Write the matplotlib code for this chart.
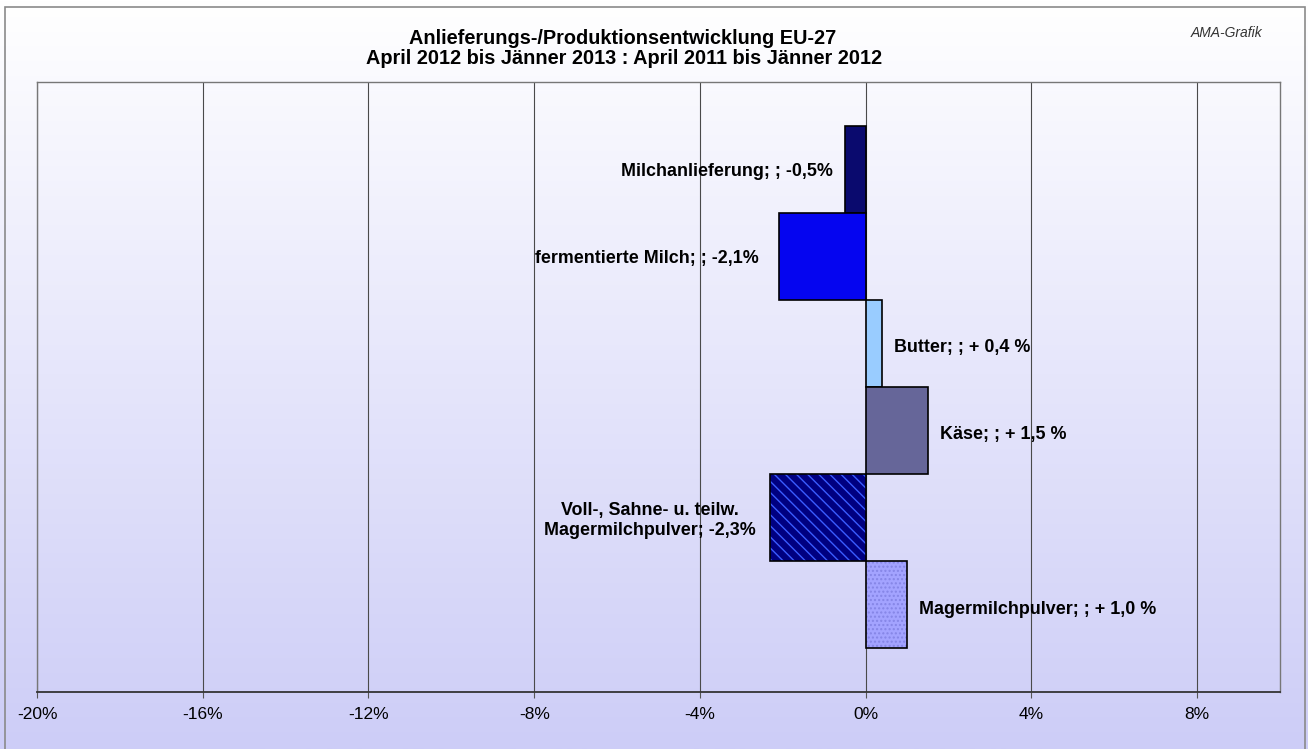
import numpy as np
import matplotlib.pyplot as plt
from matplotlib.patches import Rectangle

plt.rcParams['font.family'] = ['Liberation Sans', 'DejaVu Sans']

# data
categories = ['Milchanlieferung', 'fermentierte Milch', 'Butter', 'Käse',
              'Voll-, Sahne- u. teilw.\nMagermilchpulver', 'Magermilchpulver']
values = [-0.5, -2.1, 0.4, 1.5, -2.3, 1.0]
labels = ['Milchanlieferung; ; -0,5%', 'fermentierte Milch; ; -2,1%',
          'Butter; ; + 0,4 %', 'Käse; ; + 1,5 %',
          'Voll-, Sahne- u. teilw.\nMagermilchpulver; -2,3%',
          'Magermilchpulver; ; + 1,0 %']
xticks = [-20, -16, -12, -8, -4, 0, 4, 8]

colors = ['#0a0a6e', '#0505f0', '#99ccff', '#666699', '#000080', '#a3a3ff']
# gap between bar end and its label (in % units)
label_gap = [0.28, 0.48, 0.28, 0.3, 0.36, 0.28]

fig = plt.figure(figsize=(13.08, 7.49), dpi=100)

# gradient background over the whole figure (white on top -> lavender below)
bg = fig.add_axes([0, 0, 1, 1], zorder=-10)
grad = np.linspace(0, 1, 256).reshape(-1, 1)
top = np.array([1.0, 1.0, 1.0])
bot = np.array([205, 205, 247]) / 255
img = top + (bot - top) * grad[:, :, None]
bg.imshow(img, aspect='auto', extent=[0, 1, 0, 1], origin='upper')
bg.set_xlim(0, 1)
bg.set_ylim(0, 1)
bg.axis('off')
bg.add_patch(Rectangle((5 / 1308, -0.05), 1300 / 1308, 1.05 - 7 / 749,
                       fill=False, edgecolor='#8a8a8a', lw=1.2))

ax = fig.add_axes([37 / 1308, 1 - 692 / 749, 1243 / 1308, 610 / 749])
ax.set_facecolor('none')

y = np.arange(len(values))
for i, v in enumerate(values):
    if i == 4:
        ax.barh(y[i], v, height=1.0, color=colors[i], hatch='\\\\\\',
                edgecolor='#3a5cff', linewidth=0, zorder=3)
        ax.barh(y[i], v, height=1.0, fill=False, edgecolor='black',
                linewidth=1.2, zorder=4)
    elif i == 5:
        ax.barh(y[i], v, height=1.0, color=colors[i], hatch='....',
                edgecolor='#8585e6', linewidth=0, zorder=3)
        ax.barh(y[i], v, height=1.0, fill=False, edgecolor='black',
                linewidth=1.2, zorder=4)
    else:
        ax.barh(y[i], v, height=1.0, color=colors[i], edgecolor='black',
                linewidth=1.2, zorder=3)

# data labels
for i, v in enumerate(values):
    if v < 0:
        ax.text(v - label_gap[i], y[i] + 0.03, labels[i], ha='right',
                va='center', multialignment='center', fontsize=12.9,
                fontweight='bold', zorder=5, linespacing=1.2)
    else:
        ax.text(v + label_gap[i], y[i] + 0.05, labels[i], ha='left',
                va='center', fontsize=12.9, fontweight='bold', zorder=5)

ax.set_xlim(-20, 10)
ax.set_ylim(6, -1)
ax.set_xticks(xticks)
ax.set_xticklabels([f'{t}%' for t in xticks], fontsize=12.5)
ax.set_yticks([])
ax.grid(axis='x', color='#4a4a4a', linewidth=0.8, zorder=1)
ax.tick_params(axis='x', length=4, color='#555555', pad=7)
for s in ['top', 'right', 'left']:
    ax.spines[s].set_color('#777777')
    ax.spines[s].set_linewidth(1.0)
ax.spines['bottom'].set_color('#333333')
ax.spines['bottom'].set_linewidth(1.3)

fig.text(623 / 1308, 1 - 38 / 749, 'Anlieferungs-/Produktionsentwicklung EU-27',
         ha='center', va='center', fontsize=14.3, fontweight='bold')
fig.text(624 / 1308, 1 - 58 / 749,
         'April 2012 bis Jänner 2013 : April 2011 bis Jänner 2012',
         ha='center', va='center', fontsize=14.3, fontweight='bold')
fig.text(1262 / 1308, 1 - 33 / 749, 'AMA-Grafik', ha='right', va='center',
         fontsize=10, style='italic', color='#333333')

fig.savefig('out.png', dpi=100)
